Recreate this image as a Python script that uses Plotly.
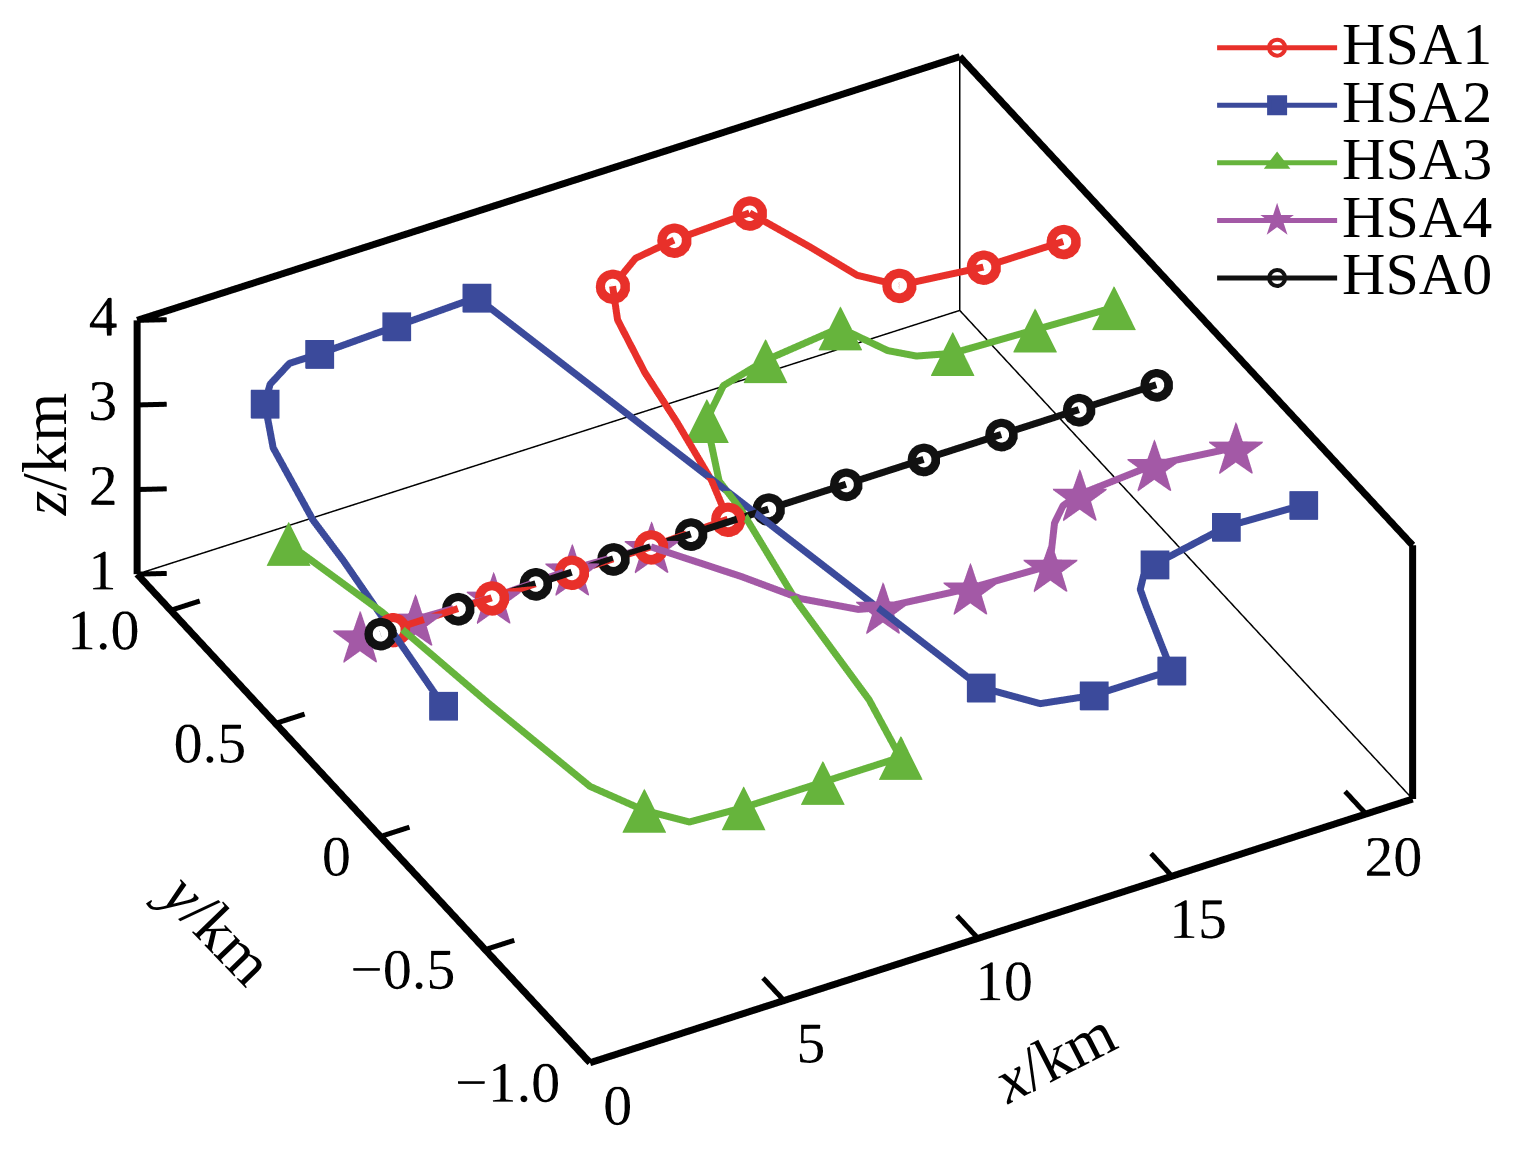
import plotly.graph_objects as go

# axis box (km)
x_range = [0, 21.2]
y_range = [-1.0, 1.16]
z_range = [1, 4]

x_ticks = [0, 5, 10, 15, 20]
x_ticklabels = ["0", "5", "10", "15", "20"]
y_ticks = [-1.0, -0.5, 0, 0.5, 1.0]
y_ticklabels = ["\u22121.0", "\u22120.5", "0", "0.5", "1.0"]
z_ticks = [1, 2, 3, 4]
z_ticklabels = ["1", "2", "3", "4"]

# HSA1 (red): line and markers
hsa1_line_x = [0.32, 2.87, 4.93, 6.97, 9.01, 9.40, 9.79, 10.06, 10.49, 11.01, 11.98, 13.08, 15.08, 15.65, 16.07, 16.72, 18.73, 20.79]
hsa1_line_y = [0.00, 0.00, 0.00, 0.00, 0.01, 0.16, 0.40, 0.60, 0.81, 0.93, 1.00, 1.02, 1.03, 0.85, 0.70, 0.62, 0.59, 0.59]
hsa1_line_z = [3.4] * 18
hsa1_mark_x = [0.32, 2.87, 4.93, 6.97, 9.01, 11.01, 13.08, 15.08, 16.72, 18.73, 20.79]
hsa1_mark_y = [0.00, 0.00, 0.00, 0.00, 0.01, 0.93, 1.02, 1.03, 0.62, 0.59, 0.59]
hsa1_mark_z = [3.4] * 11

# HSA2 (blue)
hsa2_line_x = [0.0, 0.61, 0.75, 1.29, 1.94, 2.40, 3.17, 3.94, 5.98, 8.10, 10.94, 11.82, 13.04, 15.04, 15.73, 15.91, 16.28, 16.66, 18.77, 20.71]
hsa2_line_y = [-0.30, 0.29, 0.46, 0.75, 0.91, 0.97, 1.02, 1.02, 1.03, 1.04, -0.84, -0.96, -0.99, -0.99, -0.74, -0.68, -0.63, -0.61, -0.56, -0.57]
hsa2_line_z = [3.35] + [3.4] * 19
hsa2_mark_x = [0.0, 1.94, 3.94, 5.98, 8.10, 10.94, 13.04, 15.04, 16.66, 18.77, 20.71]
hsa2_mark_y = [-0.30, 0.91, 1.02, 1.03, 1.04, -0.84, -0.99, -0.99, -0.61, -0.56, -0.57]
hsa2_mark_z = [3.35] + [3.4] * 10

# HSA3 (green)
hsa3_line_x = [0.0, 0.43, 0.87, 1.35, 1.98, 2.67, 4.00, 6.04, 8.05, 8.49, 8.87, 9.45, 9.54, 10.40, 11.38, 12.67, 14.76, 15.29, 15.76, 16.52, 18.59, 20.57]
hsa3_line_y = [0.44, 0.07, -0.36, -0.75, -0.89, -0.98, -0.99, -0.99, -0.99, -0.76, -0.34, 0.03, 0.15, 0.37, 0.47, 0.51, 0.54, 0.41, 0.36, 0.33, 0.32, 0.31]
hsa3_line_z = [3.29] + [3.4] * 21
hsa3_mark_x = [0.0, 1.98, 4.00, 6.04, 8.05, 10.40, 12.67, 14.76, 16.52, 18.59, 20.57]
hsa3_mark_y = [0.44, -0.89, -0.99, -0.99, -0.99, 0.37, 0.51, 0.54, 0.33, 0.32, 0.31]
hsa3_mark_z = [3.29] + [3.4] * 10

# HSA4 (purple)
hsa4_line_x = [0.0, 0.94, 2.90, 4.98, 6.97, 8.22, 8.99, 9.94, 10.45, 12.54, 14.55, 15.43, 15.92, 16.44, 18.47, 20.41]
hsa4_line_y = [0.10, 0.01, 0.00, 0.01, 0.00, -0.20, -0.34, -0.44, -0.46, -0.49, -0.50, -0.36, -0.31, -0.29, -0.27, -0.30]
hsa4_line_z = [3.1] + [3.4] * 15
hsa4_mark_x = [0.0, 0.94, 2.90, 4.98, 6.97, 10.45, 12.54, 14.55, 16.44, 18.47, 20.41]
hsa4_mark_y = [0.10, 0.01, 0.00, 0.01, 0.00, -0.46, -0.49, -0.50, -0.29, -0.27, -0.30]
hsa4_mark_z = [3.1] + [3.4] * 10

# HSA0 (black) reference
hsa0_x = [0, 2, 4, 6, 8, 10, 12, 14, 16, 18, 20]
hsa0_y = [0] * 11
hsa0_z = [3.4] * 11

red = "#e8302a"
blue = "#3b4a9b"
green = "#66b43c"
purple = "#a359a6"
black = "#111111"
font = "Liberation Serif"
label_size = 58

x0, x1 = x_range
y0, y1 = y_range
z0, z1 = z_range

# plotly's own (invisible) axis box is padded so the drawn box, ticks and
# labels are not clipped; one km keeps the same length as in the drawn box
pad_x = [x0 - 2.2, x1 + 0.1]
pad_y = [y0 - 0.2, y1 + 0.02]
pad_z = [z0 - 0.2, z1 + 0.25]
km_x, km_y, km_z = 0.0758, 0.7514, 0.1794

# screen pixels per km along x and z (used to offset the tick labels)
px_x = (38.9, -12.4)
px_z = (0.0, -84.33)

fig = go.Figure()

# box edges (thick front/top edges, thin back corner)
fig.add_trace(go.Scatter3d(
    x=[x0, x1, None, x0, x1, None, x0, x0, None, x1, x1, None, x0, x0, None, x1, x1],
    y=[y0, y0, None, y1, y1, None, y0, y1, None, y0, y1, None, y1, y1, None, y0, y0],
    z=[z0, z0, None, z1, z1, None, z0, z0, None, z1, z1, None, z0, z1, None, z0, z1],
    mode="lines", line=dict(color="black", width=14),
    showlegend=False, hoverinfo="skip",
))
fig.add_trace(go.Scatter3d(
    x=[x0, x1, x1, None, x1, x1],
    y=[y1, y1, y0, None, y1, y1],
    z=[z0, z0, z0, None, z0, z1],
    mode="lines", line=dict(color="black", width=3),
    showlegend=False, hoverinfo="skip",
))

# inward tick marks
tx, ty, tz = [], [], []
for v in x_ticks:
    tx += [v, v, None]
    ty += [y0, y0 + 0.1, None]
    tz += [z0, z0, None]
for v in y_ticks:
    tx += [x0, x0 + 0.75, None]
    ty += [v, v, None]
    tz += [z0, z0, None]
for v in z_ticks:
    tx += [x0, x0 + 0.6, None]
    ty += [y1, y1 - 0.03, None]
    tz += [v, v, None]
fig.add_trace(go.Scatter3d(x=tx, y=ty, z=tz, mode="lines",
                           line=dict(color="black", width=10),
                           showlegend=False, hoverinfo="skip"))


def text_width(s):
    w = {"\u2212": 0.564, ".": 0.25}
    return sum(w.get(c, 0.5) for c in s) * label_size


def shift(sx, sy):
    # screen offset (px) -> offset along x and z (km)
    ox = sx / px_x[0]
    oz = (sy - px_x[1] * ox) / px_z[1]
    return ox, oz


# tick labels, horizontal like the original
lx, ly, lz, lt = [], [], [], []
for v, s in zip(x_ticks, x_ticklabels):
    lx.append(v); ly.append(y0 - 0.13); lz.append(z0 - 0.16); lt.append(s)
for v, s in zip(y_ticks, y_ticklabels):
    ox, oz = shift(-30 - text_width(s) / 2, 20)
    lx.append(x0 + ox); ly.append(v); lz.append(z0 + oz); lt.append(s)
for v, s in zip(z_ticks, z_ticklabels):
    ox, oz = shift(-20 - text_width(s) / 2, -4)
    lx.append(x0 + ox); ly.append(y1); lz.append(v + oz); lt.append(s)
fig.add_trace(go.Scatter3d(x=lx, y=ly, z=lz, mode="text", text=lt,
                           textposition="middle center",
                           textfont=dict(family=font, size=label_size, color="black"),
                           showlegend=False, hoverinfo="skip"))


def ring(xs, ys, zs, color, outer, inner):
    fig.add_trace(go.Scatter3d(x=xs, y=ys, z=zs, mode="markers",
                               marker=dict(symbol="circle", size=outer, color=color),
                               showlegend=False))
    fig.add_trace(go.Scatter3d(x=xs, y=ys, z=zs, mode="markers",
                               marker=dict(symbol="circle", size=inner, color="white"),
                               showlegend=False))


fig.add_trace(go.Scatter3d(x=hsa0_x, y=hsa0_y, z=hsa0_z, mode="lines",
                           line=dict(color=black, width=14), showlegend=False))
ring(hsa0_x, hsa0_y, hsa0_z, black, 19, 9)

# purple under red along the reference line
fig.add_trace(go.Scatter3d(x=hsa4_line_x, y=hsa4_line_y, z=hsa4_line_z, mode="lines",
                           line=dict(color=purple, width=14), showlegend=False))
fig.add_trace(go.Scatter3d(x=hsa4_mark_x, y=hsa4_mark_y, z=hsa4_mark_z, mode="text",
                           text=["\u2605"] * len(hsa4_mark_x), textposition="middle center",
                           textfont=dict(color=purple, size=74, family="DejaVu Sans"),
                           showlegend=False))

fig.add_trace(go.Scatter3d(x=hsa1_line_x, y=hsa1_line_y, z=hsa1_line_z, mode="lines",
                           line=dict(color=red, width=14), showlegend=False))
ring(hsa1_mark_x, hsa1_mark_y, hsa1_mark_z, red, 20, 9)

fig.add_trace(go.Scatter3d(x=hsa2_line_x, y=hsa2_line_y, z=hsa2_line_z, mode="lines",
                           line=dict(color=blue, width=14), showlegend=False))
fig.add_trace(go.Scatter3d(x=hsa2_mark_x, y=hsa2_mark_y, z=hsa2_mark_z, mode="markers",
                           marker=dict(symbol="square", size=15, color=blue),
                           showlegend=False))

fig.add_trace(go.Scatter3d(x=hsa3_line_x, y=hsa3_line_y, z=hsa3_line_z, mode="lines",
                           line=dict(color=green, width=14), showlegend=False))
fig.add_trace(go.Scatter3d(x=hsa3_mark_x, y=hsa3_mark_y, z=hsa3_mark_z, mode="text",
                           text=["\u25b2"] * len(hsa3_mark_x), textposition="middle center",
                           textfont=dict(color=green, size=58, family="DejaVu Sans"),
                           showlegend=False))

# legend entries (small legend font keeps the rows tight, the span enlarges the text)
legend_items = [
    ("HSA1", red, "circle-open", 16),
    ("HSA2", blue, "square", 16),
    ("HSA3", green, "triangle-up", 22),
    ("HSA4", purple, "star", 26),
    ("HSA0", black, "circle-open", 16),
]
for name, color, symbol, size in legend_items:
    fig.add_trace(go.Scatter(
        x=[None], y=[None], mode="lines+markers",
        name='<span style="font-size:60px">%s</span>' % name,
        line=dict(color=color, width=5),
        marker=dict(symbol=symbol, size=size, color=color, line=dict(width=4, color=color)),
    ))

axis_common = dict(
    showbackground=False, showgrid=False, zeroline=False,
    showline=False, ticks="", showticklabels=False,
    showspikes=False, title=dict(text=""),
)

title_font = dict(family=font, size=63, color="black")
axis_titles = [
    ("<i>x</i>/km", 0.684, 0.100, -27),
    ("<i>y</i>/km", 0.136, 0.212, 46),
    ("<i>z</i>/km", 0.024, 0.617, -90),
]

fig.update_layout(
    width=1530, height=1166,
    paper_bgcolor="white", plot_bgcolor="rgba(0,0,0,0)",
    margin=dict(l=0, r=0, t=0, b=0),
    xaxis=dict(visible=False), yaxis=dict(visible=False),
    scene=dict(
        domain=dict(x=[0.0, 0.974], y=[0.0, 1.0]),
        aspectmode="manual",
        aspectratio=dict(x=(pad_x[1] - pad_x[0]) * km_x,
                         y=(pad_y[1] - pad_y[0]) * km_y,
                         z=(pad_z[1] - pad_z[0]) * km_z),
        camera=dict(eye=dict(x=-0.387 * 2.5, y=-0.710 * 2.5, z=0.588 * 2.5),
                    up=dict(x=0, y=0, z=1), center=dict(x=0, y=0, z=0),
                    projection=dict(type="orthographic")),
        xaxis=dict(axis_common, range=pad_x),
        yaxis=dict(axis_common, range=pad_y),
        zaxis=dict(axis_common, range=pad_z),
    ),
    annotations=[
        dict(text=t, x=ax, y=ay, xref="paper", yref="paper", showarrow=False,
             textangle=ang, font=title_font, xanchor="center", yanchor="middle")
        for t, ax, ay, ang in axis_titles
    ],
    legend=dict(x=0.787, y=0.995, xanchor="left", yanchor="top",
                font=dict(family=font, size=42, color="black"),
                bgcolor="rgba(0,0,0,0)", itemwidth=120, tracegroupgap=0),
)

fig.write_html("out.html")
